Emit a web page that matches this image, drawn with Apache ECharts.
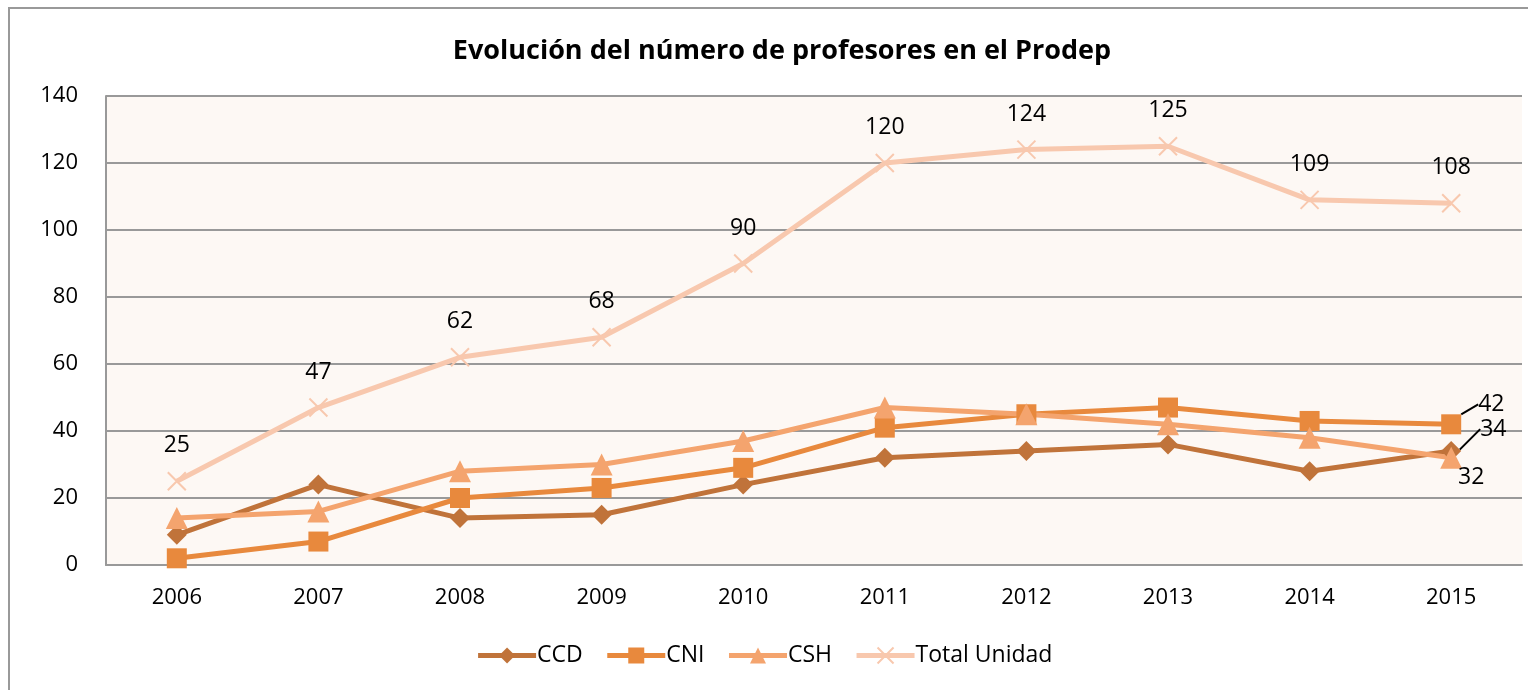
<!DOCTYPE html>
<html>
<head>
<meta charset="utf-8">
<script src="https://cdn.jsdelivr.net/npm/echarts@6/dist/echarts.min.js"></script>
<style>
  html, body { margin: 0; padding: 0; background: #fff; }
  #chart { width: 1528px; height: 690px; }
</style>
</head>
<body>
<div id="chart"></div>
<script>
// datos
const years = ['2006', '2007', '2008', '2009', '2010', '2011', '2012', '2013', '2014', '2015'];
const ccd = [9, 24, 14, 15, 24, 32, 34, 36, 28, 34];
const cni = [2, 7, 20, 23, 29, 41, 45, 47, 43, 42];
const csh = [14, 16, 28, 30, 37, 47, 45, 42, 38, 32];
const totalUnidad = [25, 47, 62, 68, 90, 120, 124, 125, 109, 108];
const yTicks = [0, 20, 40, 60, 80, 100, 120, 140];

const FONT = '"Open Sans", "Liberation Sans", sans-serif';
const crossPath = 'path://M0,0 L10,10 M10,0 L0,10';

// solo la etiqueta del ultimo punto
function lastLabel(data, pos) {
  return data.map((v, i) => {
    if (i !== data.length - 1) return v;
    return { value: v, label: { show: true, position: pos } };
  });
}

function makeSeries(name, data, color, symbol, size, extra) {
  return {
    name: name,
    type: 'line',
    data: data,
    symbol: symbol,
    symbolSize: size,
    showAllSymbol: true,
    lineStyle: { color: color, width: 5 },
    itemStyle: { color: color },
    label: { show: false, color: '#000', fontSize: 23, fontFamily: FONT },
    z: 3,
    ...extra
  };
}

const chart = echarts.init(document.getElementById('chart'));

const option = {
  backgroundColor: '#fff',
  animation: false,
  title: {
    text: 'Evolución del número de profesores en el Prodep',
    left: 777,
    textAlign: 'center',
    top: 33,
    textStyle: { fontFamily: FONT, fontWeight: 'bold', fontSize: 27, color: '#000' }
  },
  graphic: [{
    type: 'rect',
    shape: { x: 9, y: 8, width: 1560, height: 720 },
    style: { fill: 'none', stroke: '#999', lineWidth: 2 },
    silent: true
  }],
  grid: {
    left: 106, right: 6, top: 96, bottom: 125,
    show: true,
    backgroundColor: '#FDF8F4',
    borderWidth: 0
  },
  legend: {
    bottom: 18,
    left: 'center',
    itemWidth: 58,
    itemHeight: 20,
    itemGap: 22,
    lineStyle: { width: 5 },
    textStyle: { fontFamily: FONT, fontSize: 23, color: '#000', padding: [0, 0, 0, -4] },
    data: ['CCD', 'CNI', 'CSH', 'Total Unidad']
  },
  xAxis: {
    type: 'category',
    data: years,
    boundaryGap: true,
    axisLine: { lineStyle: { color: '#999', width: 2 } },
    axisTick: { show: false },
    axisLabel: { fontFamily: FONT, fontSize: 22, color: '#000', margin: 22 }
  },
  yAxis: {
    type: 'value',
    min: yTicks[0],
    max: yTicks[yTicks.length - 1],
    interval: 20,
    axisLine: { show: true, lineStyle: { color: '#999', width: 2 } },
    axisTick: { show: false },
    splitLine: { lineStyle: { color: '#999', width: 2 } },
    axisLabel: { fontFamily: FONT, fontSize: 22, color: '#000', margin: 28 }
  },
  series: [
    makeSeries('CCD', lastLabel(ccd, 'right'), '#C0733A', 'diamond', 20, {
      labelLine: { show: true, lineStyle: { color: '#000', width: 2 } },
      labelLayout: p => p.dataIndex === 9 ? { dx: 14, dy: -22 } : {}
    }),
    makeSeries('CNI', lastLabel(cni, 'right'), '#E8893D', 'rect', 20, {
      labelLine: { show: true, lineStyle: { color: '#000', width: 2 } },
      labelLayout: p => p.dataIndex === 9 ? { dx: 12, dy: -20 } : {}
    }),
    makeSeries('CSH', lastLabel(csh, 'bottom'), '#F4A46E', 'triangle', 22, {
      labelLayout: p => p.dataIndex === 9 ? { dx: 20, dy: -8 } : {}
    }),
    {
      name: 'Total Unidad',
      type: 'line',
      data: totalUnidad,
      symbol: crossPath,
      symbolSize: 18,
      showAllSymbol: true,
      lineStyle: { color: '#F8C8AE', width: 5 },
      itemStyle: { color: '#F8C8AE', borderColor: '#F8C8AE', borderWidth: 2 },
      label: {
        show: true, position: 'top', distance: 14,
        color: '#000', fontSize: 23, fontFamily: FONT
      },
      z: 2
    }
  ]
};

chart.setOption(option);
</script>
</body>
</html>
